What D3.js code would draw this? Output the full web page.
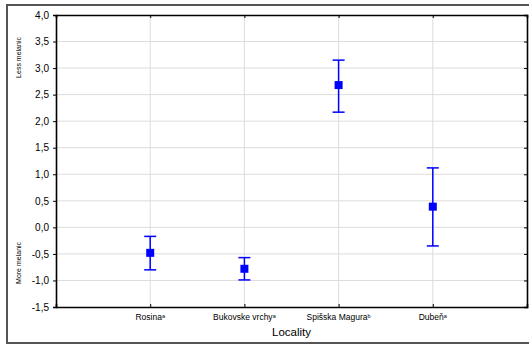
<!DOCTYPE html>
<html><head><meta charset="utf-8">
<script src="https://cdn.jsdelivr.net/npm/d3@7"></script>
<style>body{margin:0;background:#fff}svg{display:block;font-family:Arial,"Liberation Sans",sans-serif}</style>
</head><body>
<svg id="c" width="529" height="347"></svg>
<script>
const categories = ["Rosina", "Bukovske vrchy", "Spišska Magura", "Dubeň"];
const superscripts = ["a", "a", "b", "a"];
const means = [-0.48, -0.78, 2.68, 0.39];
const upper = [-0.17, -0.57, 3.15, 1.12];
const lower = [-0.80, -0.99, 2.17, -0.35];
const yTicks = [-1.5, -1.0, -0.5, 0.0, 0.5, 1.0, 1.5, 2.0, 2.5, 3.0, 3.5, 4.0];

const svg = d3.select("#c");
const L = 56, R = 527, T = 15, B = 307;
const x = d3.scaleLinear().domain([0, categories.length + 1]).range([L, R]);
const y = d3.scaleLinear().domain([-1.5, 4.0]).range([B, T]);
const fmt = d => d3.format(".1f")(d).replace(".", ",").replace("−", "-");

// outer frame
svg.append("rect").attr("x", 7).attr("y", 5).attr("width", 530).attr("height", 338)
  .attr("fill", "none").attr("stroke", "#555").attr("stroke-width", 2);

// grid
const g = svg.append("g");
g.selectAll("line.h").data(yTicks.slice(1, -1)).join("line")
  .attr("x1", L).attr("x2", R).attr("y1", d => y(d)).attr("y2", d => y(d))
  .attr("stroke", "#dcdcdc").attr("stroke-width", 1);
g.selectAll("line.v").data(categories).join("line")
  .attr("x1", (d, i) => x(i + 1)).attr("x2", (d, i) => x(i + 1)).attr("y1", T).attr("y2", B)
  .attr("stroke", "#dcdcdc").attr("stroke-width", 1);

// axes
const tickVals = categories.map((d, i) => i + 1);
svg.append("g").attr("transform", `translate(${L},0)`)
  .call(d3.axisLeft(y).tickValues(yTicks).tickFormat(fmt).tickSize(3).tickPadding(4))
  .call(a => a.selectAll("text").attr("font-size", 10).attr("fill", "#000"));
svg.append("g").attr("transform", `translate(${R},0)`)
  .call(d3.axisLeft(y).tickValues(yTicks).tickFormat("").tickSize(3));
svg.append("g").attr("transform", `translate(0,${T})`)
  .call(d3.axisBottom(x).tickValues(tickVals).tickFormat("").tickSize(3));
svg.append("g").attr("transform", `translate(0,${B})`)
  .call(d3.axisTop(x).tickValues(tickVals).tickFormat("").tickSize(3));
svg.selectAll(".domain").attr("stroke", "#000").attr("stroke-width", 1.6);
svg.selectAll(".tick line").attr("stroke", "#000");

// category labels
const lab = svg.append("g");
categories.forEach((c, i) => {
  const t = lab.append("text").attr("x", x(i + 1)).attr("y", B + 13)
    .attr("text-anchor", "middle").attr("font-size", 8.5).attr("fill", "#000");
  t.append("tspan").text(c);
  t.append("tspan").text(superscripts[i]).attr("font-size", 5.5).attr("dy", -2);
});
svg.append("text").attr("x", x(2.5)).attr("y", 336).attr("text-anchor", "middle")
  .attr("font-size", 11.5).text("Locality");

svg.append("text").attr("transform", `translate(21,${y(3.2)}) rotate(-90)`)
  .attr("text-anchor", "middle").attr("font-size", 7).text("Less melanic");
svg.append("text").attr("transform", `translate(21,${y(-0.67)}) rotate(-90)`)
  .attr("text-anchor", "middle").attr("font-size", 7).text("More melanic");

// error bars
const eb = svg.append("g").attr("stroke", "#0000ff").attr("stroke-width", 1.5);
eb.selectAll("line.w").data(means).join("line")
  .attr("x1", (d, i) => x(i + 1)).attr("x2", (d, i) => x(i + 1))
  .attr("y1", (d, i) => y(upper[i])).attr("y2", (d, i) => y(lower[i]));
eb.selectAll("line.u").data(upper).join("line")
  .attr("x1", (d, i) => x(i + 1) - 6).attr("x2", (d, i) => x(i + 1) + 6)
  .attr("y1", d => y(d)).attr("y2", d => y(d));
eb.selectAll("line.l").data(lower).join("line")
  .attr("x1", (d, i) => x(i + 1) - 6).attr("x2", (d, i) => x(i + 1) + 6)
  .attr("y1", d => y(d)).attr("y2", d => y(d));
svg.append("g").selectAll("rect").data(means).join("rect")
  .attr("x", (d, i) => x(i + 1) - 4).attr("y", d => y(d) - 4)
  .attr("width", 8).attr("height", 8).attr("fill", "#0000ff");
</script>
</body></html>
